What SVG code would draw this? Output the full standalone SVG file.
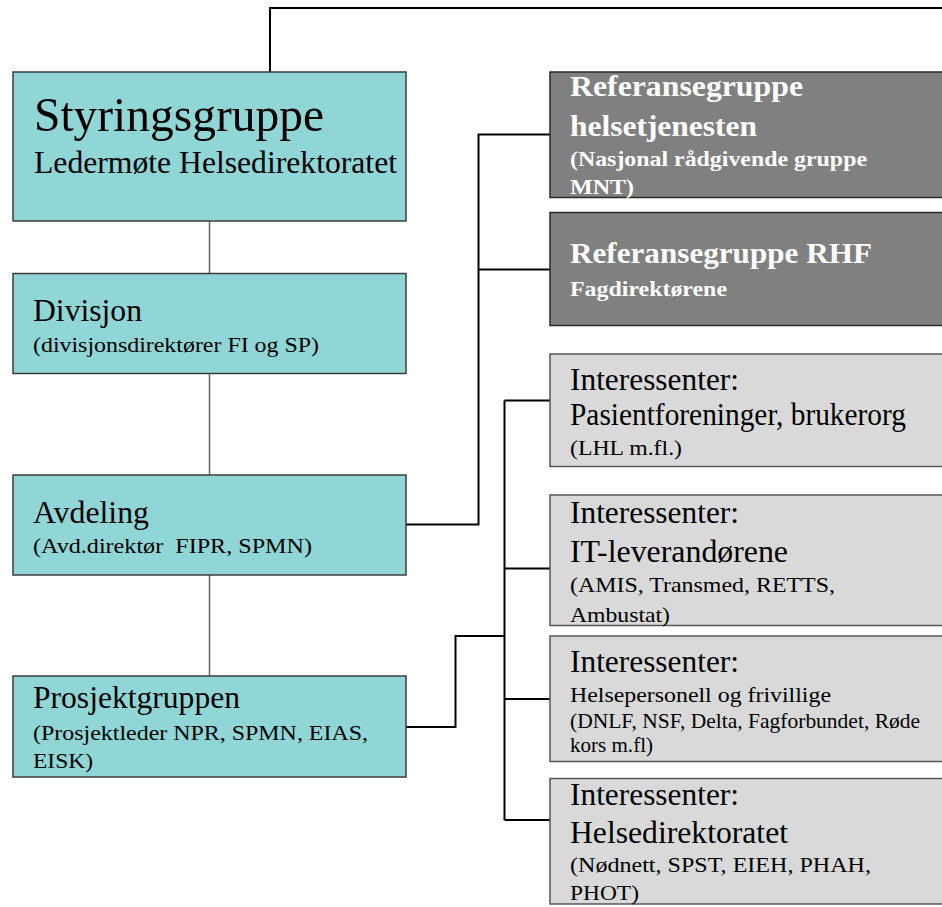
<svg xmlns="http://www.w3.org/2000/svg" width="942" height="907" viewBox="0 0 942 907">
<style>
text{font-family:"Liberation Serif","Times New Roman",serif;}
.teal{fill:#90D6D6;stroke:#3c3c3c;stroke-width:1.5;}
.dark{fill:#808080;stroke:#2a2a2a;stroke-width:1.5;}
.light{fill:#D9D9D9;stroke:#555555;stroke-width:1.5;}
.thin{fill:none;stroke:#666666;stroke-width:1.5;}
.thick{fill:none;stroke:#000000;stroke-width:2;}
.b{font-size:32px;fill:#000;}
.s{font-size:22px;fill:#000;}
.w{font-size:30px;font-weight:bold;fill:#fff;}
.ws{font-size:21px;font-weight:bold;fill:#fff;}
.g{font-size:31px;fill:#000;}
.gs{font-size:21px;fill:#000;}
</style>
<g id="connectors">
<path class="thin" d="M209.5,221 V273 M209.5,374 V475 M209.5,575 V676"/>
<path class="thick" d="M270,72 V8 H945"/>
<path class="thick" d="M406,524.5 H478.5 V134.5 H550 M478.5,269.5 H550"/>
<path class="thick" d="M406,727 H455.5 V636 H504.5 M504.5,400.5 V820 M504.5,400.5 H550 M504.5,568.5 H550 M504.5,699 H550 M504.5,820 H550"/>
</g>
<g id="styringsgruppe">
<rect class="teal" x="13" y="72" width="393" height="149"/>
<text x="34" y="131" style="font-size:49px" textLength="290" lengthAdjust="spacingAndGlyphs">Styringsgruppe</text>
<text x="34" y="173" class="b" textLength="363" lengthAdjust="spacingAndGlyphs">Ledermøte Helsedirektoratet</text>
</g>
<g id="divisjon">
<rect class="teal" x="13" y="273.5" width="393" height="100"/>
<text x="33" y="321" class="b" textLength="109" lengthAdjust="spacingAndGlyphs">Divisjon</text>
<text x="33" y="352" class="s" textLength="286" lengthAdjust="spacingAndGlyphs">(divisjonsdirektører FI og SP)</text>
</g>
<g id="avdeling">
<rect class="teal" x="13" y="475" width="393" height="100"/>
<text x="33" y="523" class="b" textLength="116" lengthAdjust="spacingAndGlyphs">Avdeling</text>
<text x="33" y="553" class="s" xml:space="preserve" style="white-space:pre" textLength="279" lengthAdjust="spacingAndGlyphs">(Avd.direktør  FIPR, SPMN)</text>
</g>
<g id="prosjektgruppen">
<rect class="teal" x="13" y="676" width="393" height="101"/>
<text x="33" y="708" class="b" textLength="207" lengthAdjust="spacingAndGlyphs">Prosjektgruppen</text>
<text x="33" y="740" class="s" textLength="335" lengthAdjust="spacingAndGlyphs">(Prosjektleder NPR, SPMN, EIAS,</text>
<text x="33" y="768" class="s" textLength="60" lengthAdjust="spacingAndGlyphs">EISK)</text>
</g>
<g id="ref-helsetjenesten">
<rect class="dark" x="550" y="72" width="400" height="125.5"/>
<text x="570" y="96" class="w" textLength="233" lengthAdjust="spacingAndGlyphs">Referansegruppe</text>
<text x="570" y="136" class="w" textLength="187" lengthAdjust="spacingAndGlyphs">helsetjenesten</text>
<text x="570" y="166" class="ws" textLength="297" lengthAdjust="spacingAndGlyphs">(Nasjonal rådgivende gruppe</text>
<text x="570" y="194" class="ws" textLength="64" lengthAdjust="spacingAndGlyphs">MNT)</text>
</g>
<g id="ref-rhf">
<rect class="dark" x="550" y="212.5" width="400" height="113"/>
<text x="570" y="263" class="w" textLength="302" lengthAdjust="spacingAndGlyphs">Referansegruppe RHF</text>
<text x="570" y="296" class="ws" textLength="157" lengthAdjust="spacingAndGlyphs">Fagdirektørene</text>
</g>
<g id="int-pasient">
<rect class="light" x="550" y="354" width="400" height="112.5"/>
<text x="570" y="390" class="g" textLength="169" lengthAdjust="spacingAndGlyphs">Interessenter:</text>
<text x="570" y="425" class="g" textLength="336" lengthAdjust="spacingAndGlyphs">Pasientforeninger, brukerorg</text>
<text x="570" y="455" class="gs" textLength="112" lengthAdjust="spacingAndGlyphs">(LHL m.fl.)</text>
</g>
<g id="int-it">
<rect class="light" x="550" y="495" width="400" height="130.5"/>
<text x="570" y="523" class="g" textLength="169" lengthAdjust="spacingAndGlyphs">Interessenter:</text>
<text x="570" y="562" class="g" textLength="218" lengthAdjust="spacingAndGlyphs">IT-leverandørene</text>
<text x="570" y="592" class="gs" textLength="265" lengthAdjust="spacingAndGlyphs">(AMIS, Transmed, RETTS,</text>
<text x="570" y="622" class="gs" textLength="100" lengthAdjust="spacingAndGlyphs">Ambustat)</text>
</g>
<g id="int-helsepersonell">
<rect class="light" x="550" y="636" width="400" height="125.5"/>
<text x="570" y="672" class="g" textLength="169" lengthAdjust="spacingAndGlyphs">Interessenter:</text>
<text x="570" y="702" class="gs" textLength="261" lengthAdjust="spacingAndGlyphs">Helsepersonell og frivillige</text>
<text x="570" y="728" class="gs" textLength="350" lengthAdjust="spacingAndGlyphs">(DNLF, NSF, Delta, Fagforbundet, Røde</text>
<text x="570" y="752" class="gs" textLength="83" lengthAdjust="spacingAndGlyphs">kors m.fl)</text>
</g>
<g id="int-helsedirektoratet">
<rect class="light" x="550" y="778.5" width="400" height="125.5"/>
<text x="570" y="805" class="g" textLength="169" lengthAdjust="spacingAndGlyphs">Interessenter:</text>
<text x="570" y="843" class="g" textLength="218" lengthAdjust="spacingAndGlyphs">Helsedirektoratet</text>
<text x="570" y="872" class="gs" textLength="301" lengthAdjust="spacingAndGlyphs">(Nødnett, SPST, EIEH, PHAH,</text>
<text x="570" y="900" class="gs" textLength="69" lengthAdjust="spacingAndGlyphs">PHOT)</text>
</g>
</svg>
